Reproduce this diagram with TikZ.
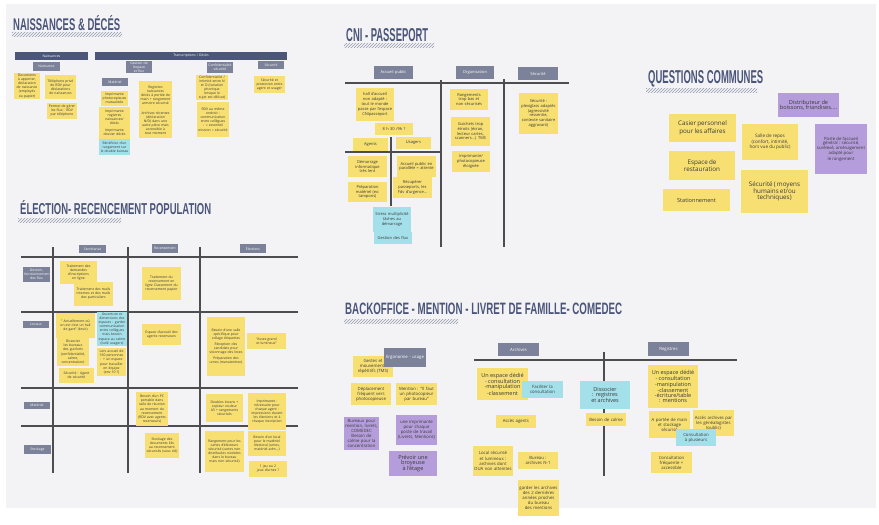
\documentclass[tikz,border=0pt]{standalone}
\usepackage{fontspec}
\setmainfont{Open Sans}
\newfontfamily\titlefont{Liberation Sans}
\usetikzlibrary{patterns}
\definecolor{bgc}{HTML}{F3F3F6}
\definecolor{yel}{HTML}{F7DF72}
\definecolor{cya}{HTML}{A3E0EA}
\definecolor{pur}{HTML}{B49DDA}
\definecolor{hdr}{HTML}{7B8299}
\definecolor{bar}{HTML}{4C5678}
\definecolor{ttl}{HTML}{4B5579}
\definecolor{grid}{HTML}{4D4D4F}
\definecolor{txt}{HTML}{3A3A3A}
\hyphenpenalty=10000
\exhyphenpenalty=10000
\newcommand\stk[7]{%
  \pgfmathsetmacro\stkw{#5-#3}\pgfmathsetmacro\stkh{#6-#4}\pgfmathsetmacro\stktw{#5-#3-2.5}%
  \node[#1, minimum width=\stkw pt, minimum height=\stkh pt, text width=\stktw pt] (#2) at ({(#3+#5)/2},{(#4+#6)/2}) {#7};}
\newcommand\ttlnode[6]{%
  \node[anchor=north west, inner sep=0, text=ttl] (#1) at (#2,#3) {\resizebox{#4pt}{#5pt}{\titlefont\bfseries #6}};}
\begin{document}
\begin{tikzpicture}[x=1pt,y=-1pt,
  base/.style={inner sep=0.8pt, align=center, text=txt, font=\fontsize{3.4}{4.1}\selectfont},
  ys/.style={base, fill=yel},
  cs/.style={base, fill=cya},
  ps/.style={base, fill=pur},
  hs/.style={base, fill=hdr, text=white},
  bs/.style={base, fill=bar, text=white},
  gl/.style={draw=grid, line width=1.6pt},
  hatch/.style={pattern=north east lines, pattern color=hdr!80}
]
\useasboundingbox (0,0) rectangle (879,525);
\fill[white] (0,0) rectangle (879,525);
\fill[bgc] (6,4) rectangle (876,508);

% ---------- titles ----------
\ttlnode{tA}{13}{15}{107}{15}{NAISSANCES \& DÉCÉS}
\fill[hatch] (12,32) rectangle (122,36);
\ttlnode{tB}{346}{28}{82}{13}{CNI - PASSEPORT}
\fill[hatch] (344,43) rectangle (434,47);
\ttlnode{tC}{648}{70}{115}{13}{QUESTIONS COMMUNES}
\fill[hatch] (646,88) rectangle (757,92);
\ttlnode{tD}{20}{200}{191}{14}{ÉLECTION- RECENCEMENT POPULATION}
\fill[hatch] (18,218) rectangle (121,222);
\ttlnode{tE}{345}{303}{277}{11.5}{BACKOFFICE - MENTION - LIVRET DE FAMILLE- COMEDEC}
\fill[hatch] (344,319) rectangle (458,323);

% ---------- Naissances & Décés ----------
\stk{bs}{nb1}{15}{52}{88}{60}{Naissances}
\stk{bs}{nb2}{95}{52}{287}{60}{Transcriptions / Décès}
\stk{hs}{nh1}{33}{62}{60}{71}{Naissance}
\stk{hs}{nh2}{126}{62}{152}{72}{Gestion de l'espace et flux}
\stk{hs}{nh3}{102}{78}{128}{86}{Matériel}
\stk{hs}{nh4}{207}{62}{233}{73}{Confidentialité sécurité}
\stk{hs}{nh5}{258}{61}{284}{69}{Sécurité}
\stk{ys}{n1}{14}{75}{40}{97}{Documents à apporter, déclaration de naissance (employés ou papier)}
\stk{ys}{n2}{45}{75}{76}{99}{Téléphone privé de RDV pour déclarations de naissances}
\stk{ys}{n3}{47}{103}{77}{119}{Permet de gérer les flux : RDV par téléphone}
\stk{ys}{n4}{101}{91}{128}{106}{Imprimante photocopieuse mutualisée}
\stk{ys}{n5}{99}{107}{130}{139}{Imprimante registres naissances/ décès\\[3pt] Imprimante dossier décès}
\stk{cs}{n6}{99}{139}{130}{155}{Bénéficier d'un rangement sur le double bureau}
\stk{ys}{n7}{139}{81}{172}{109}{Registres naissances décès à portée de main + rangement armoire sécurisé}
\stk{ys}{n8}{139}{108}{172}{138}{Archives récentes (déclaration N/D) dans une autre pièce mais accessible à tout moment}
\stk{ys}{n9}{196}{75}{228}{100}{Confidentialité / intimité entre N et D (isolation phonique lorsque le sujet est délicat)}
\stk{ys}{n10}{197}{102}{229}{137}{RDV au même endroit : communication entre collègues : = essentiel mission = sécurité}
\stk{ys}{n11}{254}{76}{285}{93}{Sécurité et protection entre agent et usager}

% ---------- CNI - Passeport ----------
\begin{scope}[base/.append style={font=\fontsize{4}{4.8}\selectfont}]
\stk{hs}{ch1}{374}{66}{413}{79}{Accueil public}
\stk{hs}{ch2}{456}{66}{494}{79}{Organisation}
\stk{hs}{ch3}{518}{67}{558}{80}{Sécurité}
\draw[gl] (345,83) -- (569,83);
\draw[gl] (441,80) -- (441,247);
\draw[gl] (504,79) -- (504,247);
\draw[gl] (345,152) -- (441,152);
\draw[gl] (391,137) -- (391,206);
\stk{ys}{c1}{356}{88}{394}{121}{hall d'accueil non adapté : tout le monde passe par l'espace CNIpasseport}
\stk{ys}{c2}{375}{123}{413}{135}{8 h 30 /9h ?}
\stk{ys}{c3}{353}{138}{388}{151}{Agents}
\stk{ys}{c4}{396}{137}{431}{149}{Usagers}
\stk{ys}{c5}{348}{156}{387}{177}{Démarrage informatique très lent}
\stk{ys}{c6}{397}{156}{436}{177}{Accueil public en parallèle = attente}
\stk{ys}{c7}{348}{182}{387}{202}{Préparation matériel (ex: tampons)}
\stk{ys}{c8}{393}{177}{432}{198}{Récupérer passeports, les Fdv d'urgence...}
\stk{cs}{c9}{373}{207}{411}{232}{Stress multiplicité tâches au démarrage}
\stk{cs}{c10}{374}{232}{412}{244}{Gestion des flux}
\stk{ys}{c11}{450}{89}{488}{110}{Rangements trop bas et non sécurisés}
\stk{ys}{c12}{451}{117}{490}{146}{Guichets trop étroits (écran, lecteur cartes, scanners...) TMS}
\stk{ys}{c13}{452}{151}{490}{172}{Imprimante/ photocopieuse éloignée}
\stk{ys}{c14}{519}{93}{558}{134}{Sécurité : plexiglass adaptés (agressivité ressentie, contexte sanitaire aggravant)}
\end{scope}

% ---------- Questions communes ----------
\stk{ps}{q1}{778}{93}{839}{117}{\fontsize{5.6}{6.6}\selectfont Distributeur de boissons, friandises....}
\stk{ys}{q2}{669}{114}{736}{142}{\fontsize{6.3}{7.4}\selectfont Casier personnel pour les affaires}
\stk{ys}{q3}{742}{124}{798}{160}{\fontsize{4.6}{5.4}\selectfont Salle de repos (confort, intimité, hors vue du public)}
\stk{ps}{q4}{815}{124}{867}{174}{\fontsize{4.3}{5}\selectfont Poste de l'accueil général : sécurisé, surélevé, aménagement adapté pour le rangement}
\stk{ys}{q5}{669}{151}{735}{180}{\fontsize{6.3}{7.4}\selectfont Espace de restauration}
\stk{ys}{q6}{741}{170}{808}{213}{\fontsize{6.3}{7.4}\selectfont Sécurité ( moyens humains et/ou techniques)}
\stk{ys}{q7}{663}{189}{730}{211}{\fontsize{5.6}{6.6}\selectfont Stationnement}

% ---------- Election - recensement ----------
\draw[gl] (21,257) -- (298,257);
\draw[gl] (21,312) -- (298,312);
\draw[gl] (21,388) -- (298,388);
\draw[gl] (21,426) -- (298,426);
\draw[gl] (53,247) -- (53,473);
\draw[gl] (128,247) -- (128,473);
\draw[gl] (200,247) -- (200,473);
\stk{hs}{eh1}{79}{245}{106}{253}{Secrétariat}
\stk{hs}{eh2}{152}{244}{178}{253}{Recensement}
\stk{hs}{eh3}{240}{244}{266}{253}{Élections}
\stk{hs}{er1}{23}{267}{50}{282}{Gestion, fonctionnement des flux}
\stk{hs}{er2}{23}{321}{49}{328}{Locaux}
\stk{hs}{er3}{24}{402}{50}{409}{Matériel}
\stk{hs}{er4}{24}{445}{51}{454}{Stockage}
\stk{ys}{e1}{60}{261}{97}{284}{Traitement des demandes d'inscriptions en ligne}
\stk{ys}{e2}{74}{282}{113}{306}{Traitement des mails internes et des mails des particuliers}
\stk{ys}{e3}{142}{267}{181}{300}{Traitement du recensement en ligne Classement du recensement papier}
\stk{ys}{e4}{56}{313}{95}{338}{" Actuellement où on est c'est un hall de gare" (bruit)}
\stk{ys}{e5}{57}{338}{89}{366}{Dissocier les bureaux des guichets (confidentialité, calme, concentration)}
\stk{ys}{e6}{59}{368}{94}{383}{Sécurité : Agent de sécurité}
\stk{cs}{e7}{97}{313}{127}{345}{Ouverture et dimensions des espaces : garder communication entre collègues mais besoin espace au calme (isolé usagers)}
\stk{ys}{e8}{97}{348}{126}{376}{Lors accueil de 160 personnes : + un espace pour travailler en équipe (env 10 ?)}
\stk{ys}{e9}{142}{324}{181}{345}{Espace d'accueil des agents recenseurs}
\stk{ys}{e10}{207}{317}{245}{376}{Besoin d'une salle spécifique pour collage étiquettes\\[2pt] Réception des candidats pour visionnage des listes\\[2pt] Préparation des urnes (manutention)}
\stk{ys}{e11}{247}{333}{286}{349}{"Assez grand et lumineux"}
\stk{ys}{e12}{136}{392}{168}{426}{Besoin d'un PC portable dans salle de réunion au moment du recensement (RDV avec agents recenseurs)}
\stk{ys}{e13}{145}{433}{179}{458}{Stockage des documents liés au recensement sécurisés (sous clé)}
\stk{ys}{e14}{206}{394}{243}{422}{Doubles écrans + copieur couleur A3 + rangements sécurisés}
\stk{ys}{e15}{248}{393}{286}{430}{Imprimante : nécessaire pour chaque agent : impressions durant les élections et à chaque inscription}
\stk{ys}{e16}{248}{431}{286}{456}{Besoin d'un local pour le matériel électoral (urnes, matériel adm...)}
\stk{ys}{e17}{205}{431}{244}{472}{Rangement pour les cartes d'électeurs sécurisé (cartes non distribuées stockées dans le bureau mais non sécurisé)}
\stk{ys}{e18}{249}{461}{287}{477}{1 jeu ou 2 jeux d'urnes ?}

% ---------- Backoffice ----------
\begin{scope}[base/.append style={font=\fontsize{4.3}{5.1}\selectfont}]
\draw[gl] (474,360) -- (737,360);
\draw[gl] (604,352) -- (604,476);
\stk{ys}{b1}{353}{356}{393}{377}{Gestes et mouvements répétitifs (TMS)}
\stk{hs}{bh1}{384}{348}{426}{367}{Ergonomie - usage}
\stk{hs}{bh2}{498}{343}{539}{356}{Archives}
\stk{hs}{bh3}{648}{342}{689}{356}{Registres}
\stk{ys}{b2}{351}{383}{391}{405}{Déplacement fréquent vers photocopieuse}
\stk{ys}{b3}{396}{383}{437}{405}{Mention : "Il faut un photocopieur par bureau"}
\stk{ps}{b4}{344}{417}{379}{450}{Bureaux pour mention, livrets, COMEDEC Besoin de calme pour la concentration}
\stk{ps}{b5}{396}{415}{437}{445}{une imprimante pour chaque poste de travail (Livrets, Mentions)}
\stk{ps}{b6}{389}{451}{437}{476}{\fontsize{5.5}{6.5}\selectfont Prévoir une broyeuse à l'étage}
\stk{ys}{a1}{477}{368}{528}{400}{\fontsize{5.5}{6.2}\selectfont Un espace dédié - consultation -manipulation -classement}
\stk{cs}{a2}{522}{381}{563}{398}{Faciliter la consultation}
\stk{cs}{a3}{580}{381}{630}{409}{\fontsize{5.5}{6.5}\selectfont Dissocier : registres et archives}
\stk{ys}{a4}{586}{413}{626}{426}{Besoin de calme}
\stk{ys}{a5}{496}{415}{536}{428}{Accès agents}
\stk{ys}{a6}{473}{446}{513}{476}{Local sécurisé et lumineux : archives dont DUA non atteintes}
\stk{ys}{a7}{518}{452}{558}{469}{Bureau : archives N-1}
\stk{ys}{a8}{518}{480}{559}{516}{garder les archives des 2 dernières années proches du bureau des mentions}
\stk{ys}{r1}{648}{365}{698}{408}{\fontsize{5.5}{6.2}\selectfont Un espace dédié - consultation -manipulation -classement -écriture/table : mentions}
\stk{ys}{r2}{649}{411}{690}{438}{A portée de main et stockage sécurisé}
\stk{ys}{r3}{693}{410}{734}{436}{Accès archives par les généalogistes (public)}
\stk{cs}{r4}{676}{429}{716}{446}{Consultation à plusieurs}
\stk{ys}{r5}{651}{452}{692}{473}{Consultation fréquente + accessible}
\end{scope}
\end{tikzpicture}
\end{document}
